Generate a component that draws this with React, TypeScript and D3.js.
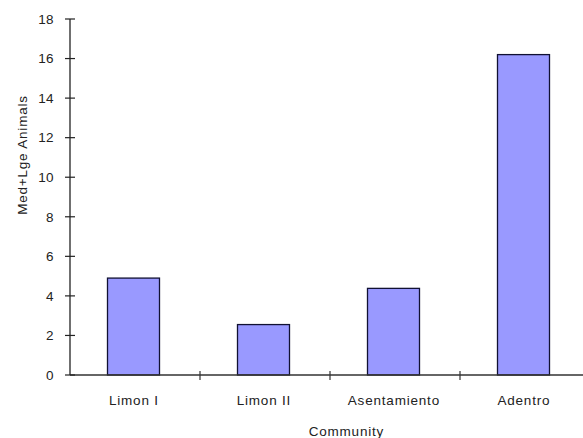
import React from "react";
import * as d3 from "d3";

const categories = ["Limon I", "Limon II", "Asentamiento", "Adentro"];
const values = [4.9, 2.55, 4.38, 16.2];
const yTicks = [0, 2, 4, 6, 8, 10, 12, 14, 16, 18];

export default function App() {
  const W = 583, H = 438;
  const x0 = 70, x1 = 590, yTop = 19, yBot = 375;
  const x = d3.scaleBand<string>().domain(categories).range([x0, x1]).paddingInner(0).paddingOuter(0);
  const y = d3.scaleLinear().domain([0, 18]).range([yBot, yTop]);
  const bw = x.bandwidth() * 0.4;
  const font = "'Liberation Sans', Arial, sans-serif";
  const fs = 13.5;
  const ls = 0.8;
  return (
    <svg width={W} height={H} style={{ position: "absolute", left: 0, top: 0, background: "#fff" }}>
      {categories.map((c, i) => (
        <rect key={c} x={(x(c) as number) + x.bandwidth() / 2 - bw / 2 - 1.5} y={y(values[i])} width={bw} height={yBot - y(values[i])}
          fill="#9999FF" stroke="#111133" strokeWidth={1.3} />
      ))}
      <line x1={x0} x2={x0} y1={yTop} y2={yBot} stroke="#222" strokeWidth={1.3} />
      <line x1={x0} x2={x1} y1={yBot} y2={yBot} stroke="#333" strokeWidth={1.3} />
      {yTicks.map((t) => (
        <g key={t}>
          <line x1={x0 - 5} x2={x0 + 5} y1={y(t)} y2={y(t)} stroke="#222" strokeWidth={1.2} />
          <text x={54} y={y(t)} dy="0.35em" textAnchor="end" fontFamily={font} fontSize={fs} letterSpacing={0.4} fill="#222">{t}</text>
        </g>
      ))}
      {categories.map((c, i) => (
        <g key={c}>
          {i > 0 && <line x1={x(c) as number} x2={x(c) as number} y1={yBot - 4} y2={yBot + 5} stroke="#333" strokeWidth={1.2} />}
          <text x={(x(c) as number) + x.bandwidth() / 2 - 1.5 + ls / 2} y={400} dy="0.35em" textAnchor="middle" fontFamily={font} fontSize={fs} letterSpacing={ls} fill="#222">{c}</text>
        </g>
      ))}
      <text x={346 + ls / 2} y={431} dy="0.35em" textAnchor="middle" fontFamily={font} fontSize={fs} letterSpacing={ls} fill="#222">Community</text>
      <text transform={`translate(22,155) rotate(-90)`} dy="0.35em" textAnchor="middle" fontFamily={font} fontSize={fs} letterSpacing={ls} fill="#222">Med+Lge Animals</text>
    </svg>
  );
}
